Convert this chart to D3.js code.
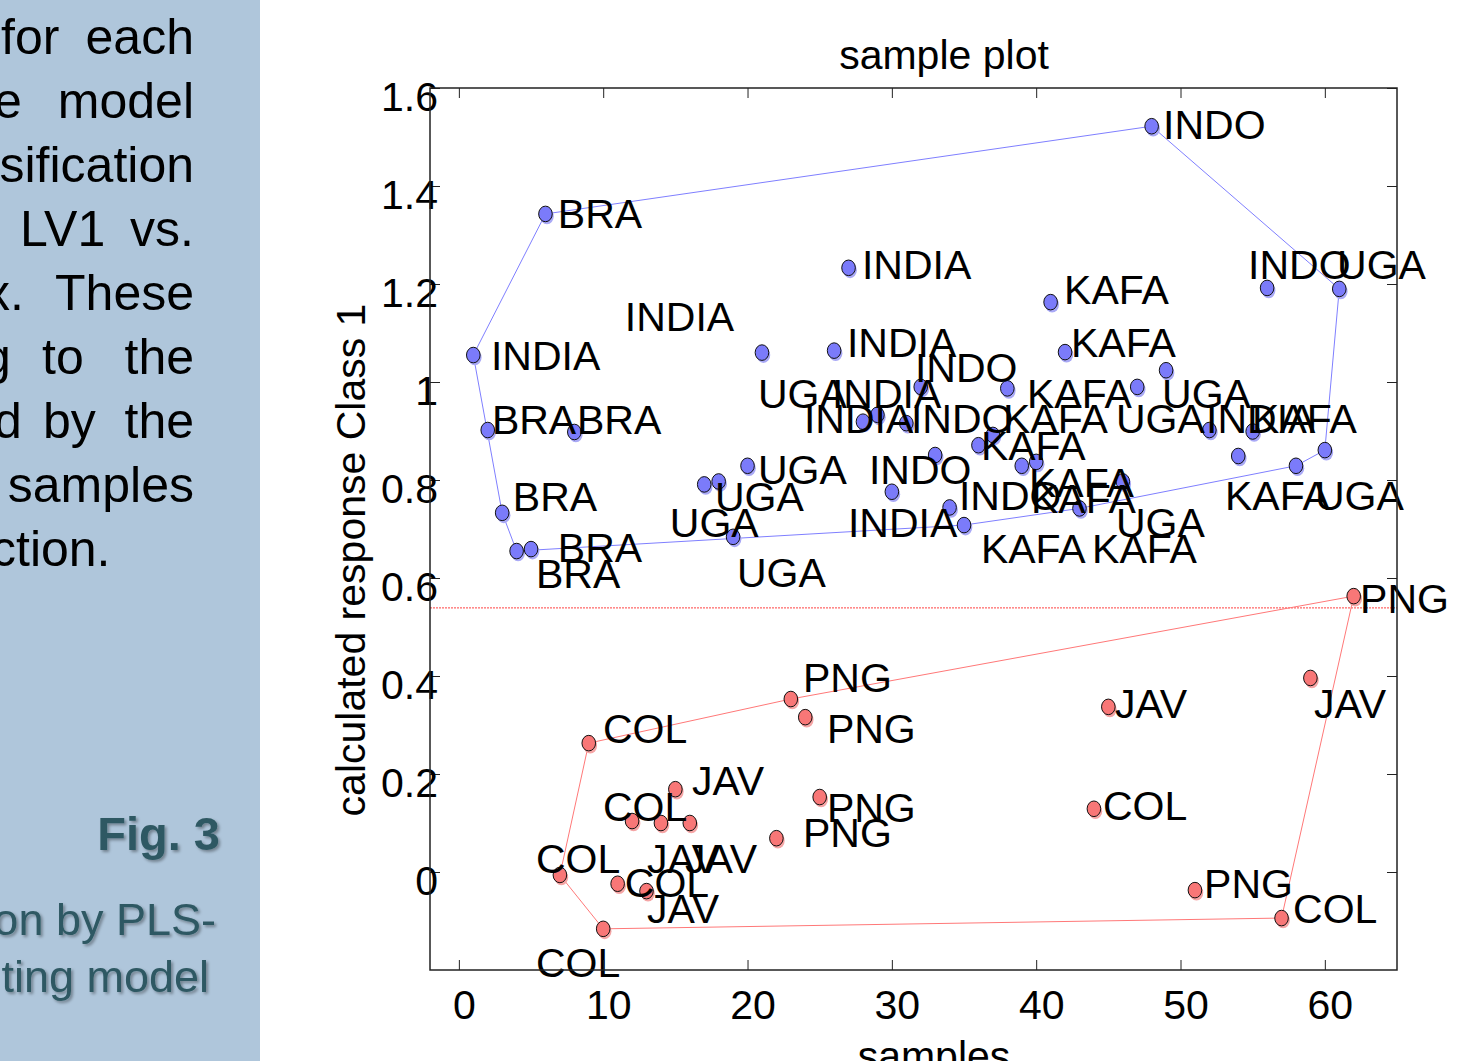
<!DOCTYPE html>
<html>
<head>
<meta charset="utf-8">
<title>sample plot</title>
<script src="https://d3js.org/d3.v7.min.js"></script>
<style>
  body { margin: 0; background: #fff; }
  svg { display: block; }
</style>
</head>
<body>
<script>
// samples of class 1 (blue) and class 2 (red): sample number, calculated response
var blueX = [1, 2, 3, 4, 5, 6, 8, 17, 18, 19, 20, 21, 26, 27, 28, 29, 30, 31, 32, 33, 34, 35, 36, 37, 38, 39, 40,
             41, 42, 43, 46, 47, 48, 49, 52, 54, 55, 56, 58, 60, 61];
var blueY = [1.055, 0.902, 0.733, 0.655, 0.659, 1.343, 0.898, 0.791, 0.797, 0.684, 0.829, 1.060, 1.064, 1.233,
             0.919, 0.933, 0.776, 0.916, 0.990, 0.851, 0.744, 0.708, 0.871, 0.892, 0.987, 0.829, 0.837,
             1.163, 1.061, 0.742, 0.797, 0.990, 1.522, 1.024, 0.902, 0.849, 0.899, 1.192, 0.829, 0.861, 1.190];
var redX = [7, 9, 10, 11, 12, 13, 14, 15, 16, 22, 23, 24, 25, 44, 45, 51, 57, 59, 62];
var redY = [-0.006, 0.263, -0.116, -0.024, 0.104, -0.039, 0.100, 0.169, 0.100, 0.069, 0.353, 0.316, 0.153,
            0.129, 0.337, -0.037, -0.094, 0.396, 0.563];

// text labels (name, x, y) as placed in the plot
var labelText = ["INDIA", "INDIA", "INDIA", "INDIA", "INDIA", "INDIA", "INDIA", "INDIA",
                 "INDO", "INDO", "INDO", "INDO", "INDO", "INDO",
                 "KAFA", "KAFA", "KAFA", "KAFA", "KAFA", "KAFA", "KAFA", "KAFA", "KAFA", "KAFA", "KAFA",
                 "UGA", "UGA", "UGA", "UGA", "UGA", "UGA", "UGA", "UGA", "UGA", "UGA",
                 "BRA", "BRA", "BRA", "BRA", "BRA", "BRA",
                 "PNG", "PNG", "PNG", "PNG", "PNG", "PNG",
                 "COL", "COL", "COL", "COL", "COL", "COL", "COL",
                 "JAV", "JAV", "JAV", "JAV", "JAV", "JAV"];
var labelX = [2.22, 11.50, 27.93, 26.89, 25.85, 23.91, 51.77, 26.96,
              31.60, 48.79, 54.68, 31.32, 28.41, 34.65,
              41.93, 42.41, 39.36, 37.70, 54.96, 36.17, 39.50, 39.64, 53.08, 36.17, 43.87,
              60.85, 20.72, 48.72, 45.53, 20.72, 17.74, 59.32, 14.62, 45.53, 19.27,
              2.29, 8.18, 3.74, 6.86, 5.34, 6.86,
              23.84, 25.50, 25.50, 23.84, 62.44, 51.63,
              9.98, 9.98, 5.34, 11.50, 5.34, 44.63, 57.80,
              16.15, 13.03, 15.66, 13.03, 45.46, 59.25];
var labelY = [1.055, 1.135, 1.241, 1.082, 0.978, 0.927, 0.927, 0.714,
              1.031, 1.527, 1.241, 0.927, 0.822, 0.769,
              1.190, 1.082, 0.978, 0.927, 0.927, 0.871, 0.796, 0.763, 0.769, 0.661, 0.661,
              1.241, 0.978, 0.978, 0.927, 0.822, 0.767, 0.769, 0.714, 0.714, 0.612,
              0.924, 0.924, 0.767, 0.663, 0.610, 1.345,
              0.398, 0.294, 0.133, 0.082, 0.559, -0.022,
              0.294, 0.135, 0.029, -0.020, -0.184, 0.137, -0.073,
              0.188, 0.029, 0.029, -0.073, 0.345, 0.345];

var xTicks = [0, 10, 20, 30, 40, 50, 60];
var yTicks = [0, 0.2, 0.4, 0.6, 0.8, 1, 1.2, 1.4, 1.6];
var threshold = 0.54;

var W = 1464, H = 1061;
var font = "'Liberation Sans', Arial, Helvetica, sans-serif";

var svg = d3.select("body").append("svg")
    .attr("width", W)
    .attr("height", H);

var defs = svg.append("defs");
var sh = defs.append("filter").attr("id", "shadow")
    .attr("x", "-10%").attr("y", "-20%").attr("width", "130%").attr("height", "150%");
sh.append("feDropShadow").attr("dx", 2).attr("dy", 2).attr("stdDeviation", 1.5)
    .attr("flood-color", "#000").attr("flood-opacity", 0.35);

// left slide panel
svg.append("rect").attr("x", 0).attr("y", 0).attr("width", 260).attr("height", H).attr("fill", "#afc6db");

// paragraph fragments: [text, x, anchor, baseline]
var para = [
    ["for", 1, "start", 54], ["each", 194, "end", 54],
    ["e", -6, "start", 118], ["model", 194, "end", 118],
    ["sification", 194, "end", 182],
    ["LV1", 20, "start", 246], ["vs.", 194, "end", 246],
    ["x.", -15, "start", 310], ["These", 194, "end", 310],
    ["g", -17, "start", 374], ["to", 42, "start", 374], ["the", 194, "end", 374],
    ["d", -6, "start", 438], ["by", 43, "start", 438], ["the", 194, "end", 438],
    ["samples", 194, "end", 502],
    ["ction.", -9, "start", 566]
];
svg.append("g").selectAll("text")
    .data(para)
    .enter().append("text")
    .attr("x", function (d) { return d[1]; })
    .attr("y", function (d) { return d[3]; })
    .attr("text-anchor", function (d) { return d[2]; })
    .attr("font-family", font)
    .attr("font-size", 50)
    .attr("fill", "#000")
    .text(function (d) { return d[0]; });

var cap = svg.append("g").attr("fill", "#2f5963").attr("font-family", font).attr("filter", "url(#shadow)");
cap.append("text").attr("x", 220).attr("y", 850).attr("text-anchor", "end")
    .attr("font-size", 47).attr("font-weight", "bold").text("Fig. 3");
cap.append("text").attr("x", 216).attr("y", 935).attr("text-anchor", "end")
    .attr("font-size", 45).text("on by PLS-");
cap.append("text").attr("x", 209).attr("y", 992).attr("text-anchor", "end")
    .attr("font-size", 45).text("ting model");

// plot
var x = d3.scaleLinear().domain([-2, 65]).range([430, 1397]);
var y = d3.scaleLinear().domain([-0.2, 1.6]).range([970, 88]);

var blue = blueX.map(function (v, i) { return [v, blueY[i]]; });
var red = redX.map(function (v, i) { return [v, redY[i]]; });

// threshold line (dotted red)
svg.append("line")
    .attr("x1", x(-2)).attr("x2", x(65))
    .attr("y1", y(threshold) + 0.5).attr("y2", y(threshold) + 0.5)
    .attr("stroke", "#ff4040").attr("stroke-width", 1)
    .attr("stroke-dasharray", "2,1");

// hulls
function hull(pts, color) {
    var h = d3.polygonHull(pts.map(function (p) { return [x(p[0]), y(p[1])]; }));
    svg.append("path")
        .attr("d", "M" + h.join("L") + "Z")
        .attr("fill", "none")
        .attr("stroke", color)
        .attr("stroke-width", 1);
}
hull(blue, "#7f7fff");
hull(red, "#ff7878");

// points
function points(pts, fill, shade) {
    var g = svg.append("g");
    g.selectAll(".s").data(pts).enter().append("ellipse")
        .attr("cx", function (d) { return x(d[0]) + 1.5; })
        .attr("cy", function (d) { return y(d[1]) + 2.5; })
        .attr("rx", 6.8).attr("ry", 7.8)
        .attr("fill", shade);
    g.selectAll(".p").data(pts).enter().append("ellipse")
        .attr("cx", function (d) { return x(d[0]); })
        .attr("cy", function (d) { return y(d[1]); })
        .attr("rx", 6.8).attr("ry", 7.8)
        .attr("fill", fill)
        .attr("stroke", "#111")
        .attr("stroke-width", 1);
}
points(blue, "#7b7bfa", "#a9a9f6");
points(red, "#f87777", "#f5a5a5");

// labels
svg.append("g").selectAll("text")
    .data(labelText)
    .enter().append("text")
    .attr("x", function (d, i) { return x(labelX[i]); })
    .attr("y", function (d, i) { return y(labelY[i]); })
    .attr("dy", "0.36em")
    .attr("font-family", font)
    .attr("font-size", 41)
    .attr("fill", "#000")
    .text(function (d) { return d; });

// axes with inward ticks
var ax = svg.append("g").attr("transform", "translate(0," + y(-0.2) + ")")
    .call(d3.axisBottom(x).tickValues(xTicks).tickSize(-10).tickPadding(20));
ax.selectAll("text").attr("dx", 5);
var ay = svg.append("g").attr("transform", "translate(" + x(-2) + ",0)")
    .call(d3.axisLeft(y).tickValues(yTicks).tickSize(-10).tickPadding(-8)
        .tickFormat(function (d) { return d3.format("")(d); }));
ay.selectAll("text").attr("dy", "0.54em");
svg.append("g").attr("transform", "translate(0," + y(1.6) + ")")
    .call(d3.axisTop(x).tickValues(xTicks).tickSize(-10).tickFormat(""));
svg.append("g").attr("transform", "translate(" + x(65) + ",0)")
    .call(d3.axisRight(y).tickValues(yTicks).tickSize(-10).tickFormat(""));

svg.selectAll(".domain").remove();
svg.selectAll(".tick line").attr("stroke", "#222").attr("stroke-width", 1);
svg.selectAll(".tick text").attr("font-family", font).attr("font-size", 41).attr("fill", "#000");

// frame
svg.append("rect")
    .attr("x", x(-2)).attr("y", y(1.6))
    .attr("width", x(65) - x(-2)).attr("height", y(-0.2) - y(1.6))
    .attr("fill", "none").attr("stroke", "#222").attr("stroke-width", 1.5);

// titles
svg.append("text").attr("x", 944).attr("y", 69).attr("text-anchor", "middle")
    .attr("font-family", font).attr("font-size", 41).text("sample plot");
svg.append("text").attr("x", 934).attr("y", 1070).attr("text-anchor", "middle")
    .attr("font-family", font).attr("font-size", 41).text("samples");
svg.append("text")
    .attr("transform", "translate(365,560) rotate(-90)")
    .attr("text-anchor", "middle")
    .attr("font-family", font).attr("font-size", 41)
    .text("calculated response Class 1");
</script>
</body>
</html>
